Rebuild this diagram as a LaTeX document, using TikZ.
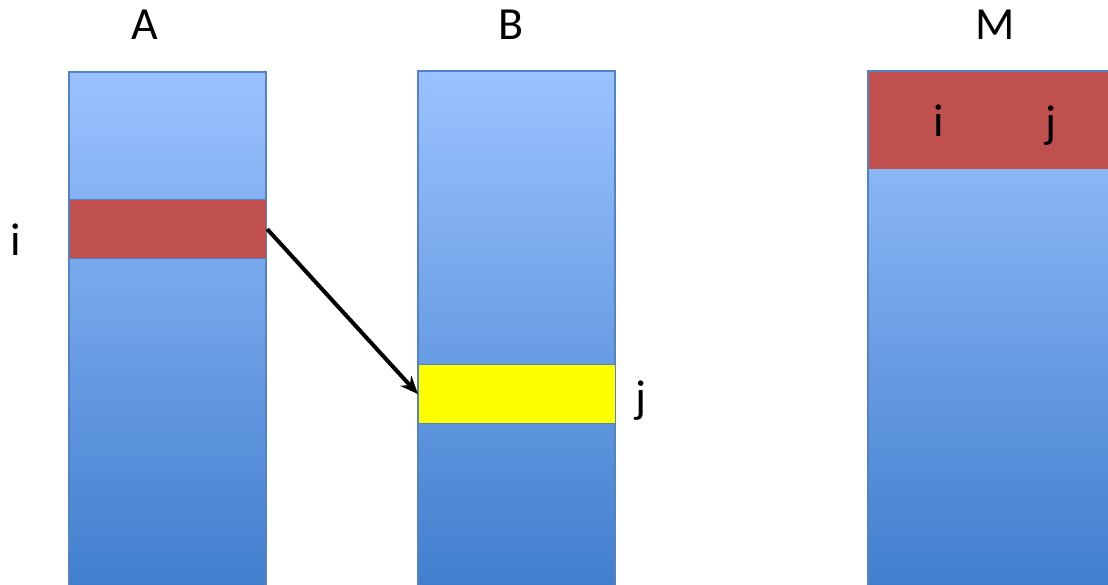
\documentclass[tikz,border=0pt]{standalone}
\usepackage{fontspec}
\setmainfont{Carlito}
\usetikzlibrary{arrows.meta}
\definecolor{coltop}{RGB}{155,194,255}
\definecolor{colbot}{RGB}{62,125,204}
\definecolor{colborder}{RGB}{85,130,195}
\definecolor{bandred}{RGB}{192,80,77}
\definecolor{bandyellow}{RGB}{255,255,0}
\tikzset{
  column/.style={draw=colborder, line width=1.2pt, top color=coltop, bottom color=colbot, shading angle=0},
  band/.style={draw=colborder, line width=1.2pt},
  lbl/.style={font=\fontsize{46}{54}\selectfont, inner sep=0pt},
  conn/.style={line width=4pt, -{Stealth[length=18pt,width=15pt]}}
}
\begin{document}
\begin{tikzpicture}[x=1pt,y=-1pt]
\useasboundingbox (0,0) rectangle (1108,584);
\clip (0,0) rectangle (1108,584);
% columns
\path[column] (69,72) rectangle (266,600);
\path[column] (418,71) rectangle (615,600);
\path[column] (868,71) rectangle (1120,600);
% bands
\node[band, fill=bandred, minimum width=197pt, minimum height=59pt, inner sep=0pt, anchor=north west] (bandA) at (69,199) {};
\node[band, fill=bandyellow, minimum width=197pt, minimum height=59pt, inner sep=0pt, anchor=north west] (bandB) at (418,364) {};
\node[band, draw=none, fill=bandred, minimum width=252pt, minimum height=97pt, inner sep=0pt, anchor=north west] (bandM) at (868,71) {};
% labels
\node[lbl] (labA) at (145,25) {A};
\node[lbl] (labB) at (511,25) {B};
\node[lbl] (labM) at (995,25) {M};
\node[lbl] (labi) at (16,240) {i};
\node[lbl] (labj) at (641,401) {j};
\node[lbl] (labMi) at (939,121) {i};
\node[lbl] (labMj) at (1051,126) {j};
% arrow
\draw[conn] (bandA.east) -- (bandB.west);
\end{tikzpicture}
\end{document}
